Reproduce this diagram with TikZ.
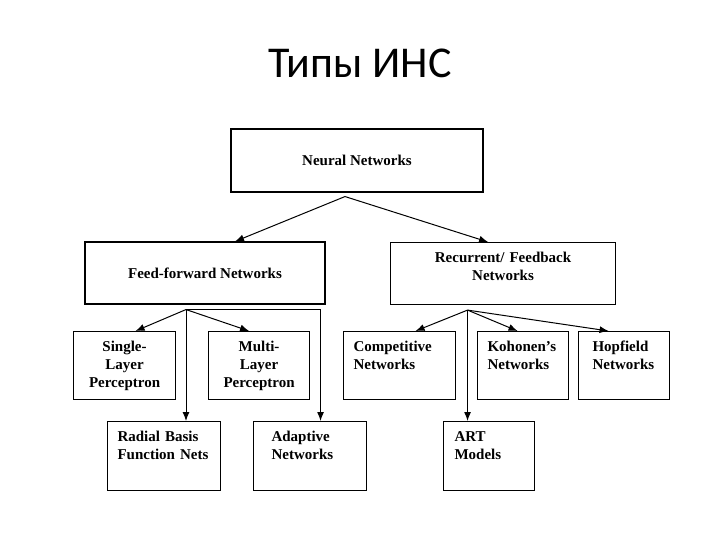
\documentclass[tikz,border=0pt]{standalone}
\usepackage{fontspec}
\setmainfont{Liberation Serif}
\newfontfamily\titlefont{Carlito}
\usetikzlibrary{arrows.meta}
\begin{document}
\begin{tikzpicture}[x=1bp,y=-1bp,font=\fontsize{15bp}{18bp}\selectfont\bfseries,
  box/.style={draw,line width=1.1bp,inner sep=0pt,align=center},
  topbox/.style={draw,line width=1.1bp,anchor=north west,inner xsep=10bp,inner ysep=4bp,text height=16bp,text depth=44bp,align=left},
  arr/.style={-{Latex[length=9bp,width=7bp]},line width=1bp}]
\useasboundingbox (0,0) rectangle (720,540);
\node[font=\titlefont\fontsize{44bp}{52bp}\selectfont,anchor=base] (title) at (360,78) {Типы ИНС};
\node[box,minimum width=252bp,minimum height=63bp] (nn) at (357,160.5) {Neural Networks};
\node[box,minimum width=240bp,minimum height=62bp] (ff) at (205,273) {Feed-forward Networks};
\node[topbox,text width=205bp,text depth=38bp,align=center] (rf) at (390,242) {Recurrent/ Feedback\\Networks};
\node[topbox,text width=82bp,align=center] (sl) at (73,331) {Single-\\Layer\\Perceptron};
\node[topbox,text width=81bp,align=center] (ml) at (208,331) {Multi-\\Layer\\Perceptron};
\node[topbox,text width=92bp] (cn) at (343,331) {Competitive\\Networks};
\node[topbox,text width=71bp] (kn) at (477,331) {Kohonen’s\\Networks};
\node[topbox,inner xsep=14bp,text width=63bp] (hn) at (578,331) {Hopfield\\Networks};
\node[topbox,text width=93bp,text depth=45bp] (rb) at (107,421) {Radial Basis\\Function Nets};
\node[topbox,inner xsep=18bp,text width=77bp,text depth=45bp] (ad) at (253,421) {Adaptive\\Networks};
\node[topbox,inner xsep=11bp,text width=69bp,text depth=45bp] (art) at (443,421) {ART\\Models};
\coordinate (nnout) at ([xshift=-12bp,yshift=-4bp]nn.south);
\coordinate (ffout) at ([xshift=-19bp,yshift=-5bp]ff.south);
\coordinate (rfout) at ([xshift=-35.5bp,yshift=-5bp]rf.south);
\draw[arr] (nnout) -- ([xshift=30bp]ff.north);
\draw[arr] (nnout) -- ([xshift=-15bp]rf.north);
\draw[arr] (ffout) -- ([xshift=11bp]sl.north);
\draw[arr] (ffout) -- ([xshift=-10bp]ml.north);
\draw[arr] (ffout) -- (ffout |- rb.north);
\draw[arr] (ffout) -| ([xshift=10.5bp]ad.north);
\draw[arr] (rfout) -- ([xshift=16bp]cn.north);
\draw[arr] (rfout) -- ([xshift=-5.5bp]kn.north);
\draw[arr] (rfout) -- ([xshift=-15.5bp]hn.north);
\draw[arr] (rfout) -- (rfout |- art.north);
\end{tikzpicture}
\end{document}
